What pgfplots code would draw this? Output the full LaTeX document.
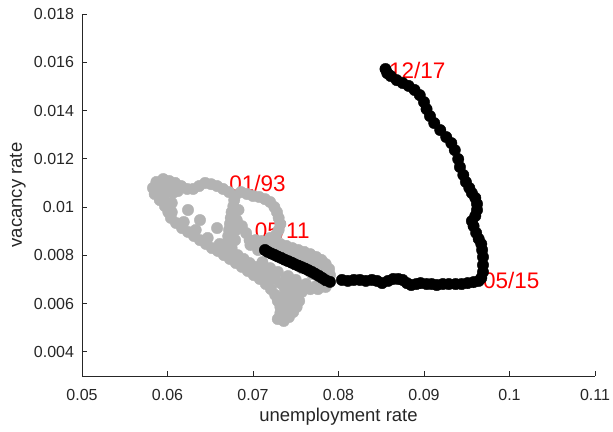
\documentclass[border=0pt]{standalone}
\usepackage{pgfplots}
\pgfplotsset{compat=1.18}
\usepackage{fontspec}
\setmainfont{Liberation Sans}
\definecolor{axgray}{RGB}{38,38,38}
\definecolor{ptgray}{RGB}{179,179,179}
\begin{document}
\begin{tikzpicture}
\useasboundingbox (-82pt,-55pt) rectangle (531pt,376pt);
\begin{axis}[
  at={(0pt,0pt)}, anchor=south west,
  width=513pt, height=362pt, scale only axis,
  xmin=0.05, xmax=0.11, ymin=0.003, ymax=0.018,
  scaled x ticks=false, scaled y ticks=false,
  axis x line*=bottom, axis y line*=left,
  axis line style={-, axgray, line width=0.8pt},
  tick align=inside,
  major tick length=5pt,
  tick style={axgray, line width=0.8pt},
  xtick={0.05,0.06,0.07,0.08,0.09,0.1,0.11},
  xticklabels={0.05,0.06,0.07,0.08,0.09,0.1,0.11},
  ytick={0.004,0.006,0.008,0.01,0.012,0.014,0.016,0.018},
  yticklabels={0.004,0.006,0.008,0.01,0.012,0.014,0.016,0.018},
  ticklabel style={font=\fontsize{16}{19}\selectfont, text=axgray},
  xticklabel style={yshift=-10pt},
  yticklabel style={xshift=-4.5pt},
  xlabel={unemployment rate}, ylabel={vacancy rate},
  label style={font=\fontsize{18.5}{22}\selectfont, text=axgray},
  xlabel style={at={(axis description cs:0.5,-0.112)}, anchor=center},
  ylabel style={at={(axis description cs:-0.125,0.5)}, anchor=center},
  clip=false,
]
% gray series 01/93 - 04/11
\addplot[only marks, mark=*, mark size=5.7pt, color=ptgray, mark options={fill=ptgray, draw=ptgray}] coordinates {
(0.0589,0.01095)(0.0595,0.01116)(0.0602,0.01108)(0.0609,0.01100)(0.0616,0.01087)
(0.0623,0.01075)(0.0630,0.01075)(0.0637,0.01087)(0.0644,0.01100)(0.0651,0.01095)
(0.0658,0.01087)(0.0665,0.01075)(0.0672,0.01062)(0.0679,0.01046)
(0.0583,0.01079)(0.0591,0.01067)(0.0600,0.01071)(0.0606,0.01058)(0.0587,0.01104)
(0.0603,0.01079)(0.0612,0.01066)(0.0596,0.01087)
(0.0585,0.01054)(0.0591,0.01029)(0.0597,0.01004)(0.0601,0.00979)(0.0604,0.00955)
(0.0610,0.00934)(0.0617,0.00913)(0.0624,0.00897)(0.0631,0.00880)(0.0638,0.00863)
(0.0645,0.00847)(0.0652,0.00830)(0.0659,0.00818)(0.0666,0.00801)(0.0673,0.00785)
(0.0680,0.00768)(0.0687,0.00752)(0.0694,0.00735)(0.0701,0.00718)(0.0708,0.00702)
(0.0715,0.00681)(0.0721,0.00660)(0.0726,0.00636)(0.0729,0.00611)(0.0732,0.00586)
(0.0732,0.00561)(0.0729,0.00536)
(0.0605,0.00979)(0.0619,0.00938)(0.0633,0.00905)(0.0647,0.00872)(0.0661,0.00847)
(0.0595,0.01038)(0.0605,0.01017)(0.0624,0.00988)(0.0638,0.00946)(0.0658,0.00913)
(0.0668,0.00834)(0.0675,0.00818)(0.0682,0.00801)(0.0689,0.00785)(0.0696,0.00768)
(0.0703,0.00752)(0.0710,0.00735)(0.0717,0.00718)(0.0725,0.00702)(0.0732,0.00685)
(0.0737,0.00665)(0.0741,0.00640)
(0.0678,0.01029)(0.0677,0.01004)(0.0675,0.00979)(0.0674,0.00955)(0.0673,0.00930)
(0.0672,0.00905)(0.0671,0.00880)(0.0670,0.00855)(0.0667,0.00830)
(0.0683,0.00988)(0.0681,0.00946)(0.0680,0.00905)(0.0679,0.00863)(0.0675,0.00830)
(0.0687,0.00921)(0.0692,0.00892)(0.0696,0.00863)
(0.0686,0.01062)(0.0693,0.01054)(0.0700,0.01046)(0.0707,0.01042)(0.0714,0.01033)
(0.0720,0.01021)(0.0725,0.01000)(0.0728,0.00979)(0.0730,0.00955)(0.0732,0.00930)
(0.0730,0.00905)(0.0727,0.00884)(0.0720,0.00872)
(0.0703,0.00863)(0.0710,0.00859)
(0.0717,0.00855)(0.0725,0.00851)(0.0732,0.00847)(0.0739,0.00839)(0.0746,0.00830)
(0.0753,0.00822)(0.0760,0.00814)(0.0767,0.00805)(0.0774,0.00793)(0.0780,0.00781)
(0.0785,0.00764)(0.0789,0.00743)(0.0790,0.00718)(0.0787,0.00698)
(0.0697,0.00843)(0.0706,0.00822)(0.0727,0.00822)(0.0736,0.00805)(0.0746,0.00797)
(0.0755,0.00785)(0.0764,0.00772)(0.0774,0.00756)(0.0783,0.00731)
(0.0711,0.00772)(0.0720,0.00747)(0.0729,0.00731)(0.0739,0.00706)(0.0748,0.00689)
(0.0757,0.00673)(0.0767,0.00660)(0.0776,0.00660)(0.0785,0.00669)
(0.0746,0.00772)(0.0757,0.00747)(0.0769,0.00723)(0.0778,0.00702)(0.0750,0.00698)
(0.0762,0.00681)(0.0774,0.00673)(0.0741,0.00714)(0.0746,0.00673)(0.0755,0.00656)
(0.0750,0.00636)(0.0754,0.00611)(0.0751,0.00586)(0.0747,0.00565)(0.0742,0.00544)
(0.0736,0.00528)(0.0739,0.00598)(0.0743,0.00623)
(0.0741,0.00602)(0.0746,0.00578)(0.0739,0.00557)(0.0750,0.00615)(0.0757,0.00648)
(0.0736,0.00631)(0.0743,0.00648)(0.0753,0.00665)
};
% black series 05/11 - 12/17
\addplot[only marks, mark=*, mark size=5.7pt, color=black, mark options={fill=black, draw=black}] coordinates {
(0.0714,0.00822)(0.0717,0.00815)(0.0721,0.00808)(0.0725,0.00802)(0.0729,0.00795)
(0.0733,0.00789)(0.0737,0.00782)(0.0741,0.00776)(0.0745,0.00770)(0.0749,0.00763)
(0.0753,0.00757)(0.0757,0.00751)(0.0761,0.00745)(0.0765,0.00738)(0.0769,0.00731)
(0.0773,0.00723)(0.0777,0.00715)(0.0781,0.00706)(0.0785,0.00697)(0.0790,0.00690)
(0.0804,0.00698)(0.0811,0.00694)(0.0818,0.00698)(0.0825,0.00698)(0.0832,0.00694)
(0.0839,0.00698)(0.0845,0.00694)(0.0851,0.00685)(0.0858,0.00694)(0.0864,0.00702)
(0.0870,0.00702)(0.0875,0.00698)(0.0880,0.00685)(0.0885,0.00677)(0.0891,0.00681)
(0.0896,0.00685)(0.0903,0.00681)(0.0909,0.00681)(0.0915,0.00677)(0.0922,0.00681)
(0.0929,0.00681)(0.0937,0.00681)(0.0944,0.00681)(0.0951,0.00685)(0.0958,0.00689)
(0.0964,0.00694)(0.0967,0.00706)
(0.0969,0.00731)(0.0969,0.00760)(0.0969,0.00793)(0.0968,0.00822)(0.0967,0.00847)
(0.0964,0.00868)(0.0961,0.00893)(0.0958,0.00921)(0.0956,0.00942)(0.0960,0.00963)
(0.0962,0.00988)(0.0962,0.01013)(0.0960,0.01038)(0.0956,0.01058)(0.0953,0.01079)
(0.0949,0.01104)(0.0946,0.01133)(0.0942,0.01166)(0.0940,0.01199)(0.0936,0.01236)
(0.0932,0.01265)(0.0926,0.01290)(0.0919,0.01319)(0.0912,0.01348)(0.0907,0.01377)
(0.0903,0.01406)(0.0900,0.01435)(0.0895,0.01464)(0.0889,0.01485)(0.0882,0.01502)
(0.0875,0.01514)(0.0868,0.01526)(0.0861,0.01543)(0.0857,0.01555)(0.0855,0.01572)
};
\node[anchor=west, inner sep=0pt, text=red, font=\fontsize{22.5}{26}\selectfont] at (axis cs:0.0672,0.01098) {01/93};
\node[anchor=west, inner sep=0pt, text=red, font=\fontsize{22.5}{26}\selectfont] at (axis cs:0.0702,0.00905) {05/11};
\node[anchor=west, inner sep=0pt, text=red, font=\fontsize{22.5}{26}\selectfont] at (axis cs:0.0859,0.01564) {12/17};
\node[anchor=west, inner sep=0pt, text=red, font=\fontsize{22.5}{26}\selectfont] at (axis cs:0.0969,0.00694) {05/15};
\end{axis}
\end{tikzpicture}
\end{document}
